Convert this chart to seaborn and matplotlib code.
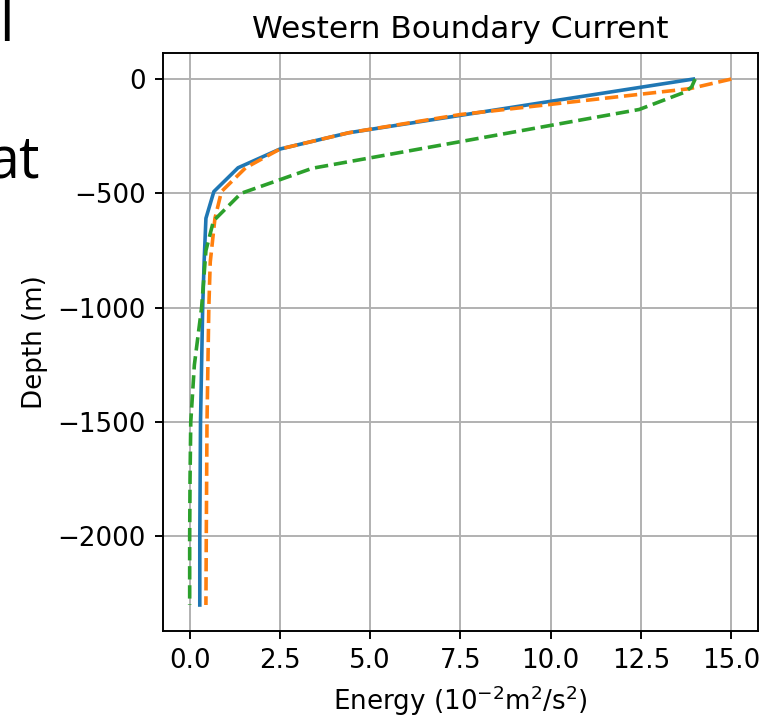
import matplotlib
matplotlib.use("Agg")
import matplotlib.pyplot as plt
import seaborn as sns
import numpy as np

# Series data (energy in 1e-2 m^2/s^2, depth in m)
depth_blue = [0, -235, -306, -388, -492, -609, -800, -1000, -1500, -2000, -2300]
energy_blue = [13.95, 4.4, 2.5, 1.34, 0.67, 0.45, 0.40, 0.36, 0.30, 0.28, 0.28]

depth_orange = [0, -42, -155, -235, -306, -388, -492, -609, -800, -1000, -1500, -2000, -2300]
energy_orange = [15.0, 13.85, 7.5, 4.4, 2.5, 1.55, 0.88, 0.70, 0.57, 0.53, 0.48, 0.46, 0.45]

depth_green = [0, -35, -58, -133, -390, -500, -620, -750, -1000, -1250, -1500, -1750, -2000, -2300]
energy_green = [14.0, 13.9, 13.7, 12.45, 3.4, 1.42, 0.66, 0.45, 0.33, 0.13, 0.03, 0.01, 0.0, 0.0]

x_ticks = [0.0, 2.5, 5.0, 7.5, 10.0, 12.5, 15.0]
y_ticks = [0, -500, -1000, -1500, -2000]

title = "Western Boundary Current"
xlabel = r"Energy ($10^{-2}$m$^2$/s$^2$)"
ylabel = "Depth (m)"

DPI = 173
plt.rcParams["font.size"] = 10.9
plt.rcParams["axes.titlesize"] = 13
fig = plt.figure(figsize=(763 / DPI, 716 / DPI), dpi=DPI)
ax = fig.add_axes([0.2131, 0.1183, 0.7808, 0.808])

sns.lineplot(x=energy_blue, y=depth_blue, sort=False, estimator=None, ax=ax,
             color="#1f77b4", linestyle="-", linewidth=1.5)
sns.lineplot(x=energy_orange, y=depth_orange, sort=False, estimator=None, ax=ax,
             color="#ff7f0e", linestyle="--", linewidth=1.5)
sns.lineplot(x=energy_green, y=depth_green, sort=False, estimator=None, ax=ax,
             color="#2ca02c", linestyle="--", linewidth=1.5)

ax.set_xticks(x_ticks)
ax.set_yticks(y_ticks)
ax.grid(True)
ax.set_title(title)
ax.set_xlabel(xlabel)
ax.set_ylabel(ylabel)

# slide text fragments visible at the left edge
fig.text(6 / 763, 1 - 41 / 716, "l", fontsize=24, family="Open Sans",
         ha="center", va="baseline")
fig.text(40 / 763, 1 - 178 / 716, "at", fontsize=24, family="Open Sans",
         ha="right", va="baseline")

fig.savefig("out.png", dpi=DPI)
